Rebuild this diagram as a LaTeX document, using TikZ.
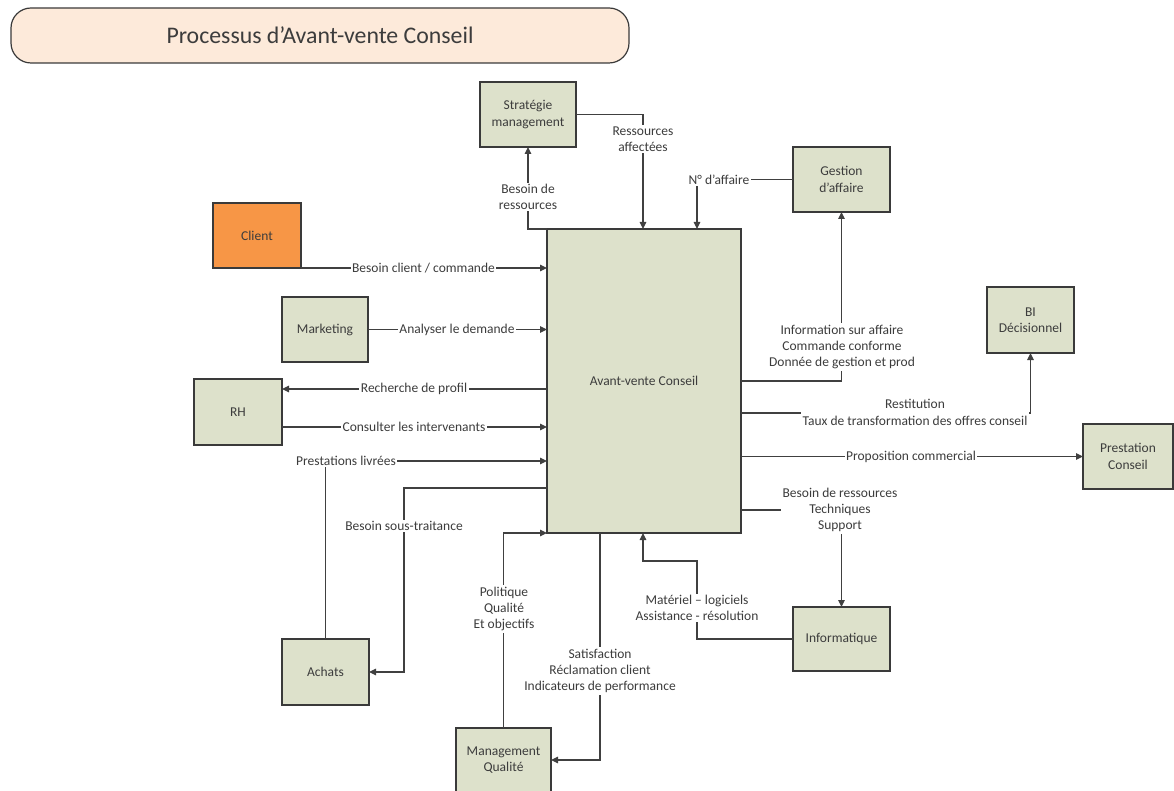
\documentclass[tikz,border=0pt]{standalone}
\usepackage{fontspec}
\setmainfont{Carlito}
\usetikzlibrary{arrows.meta}
\definecolor{boxfill}{HTML}{DDE1CB}
\definecolor{boxline}{HTML}{3A3A3A}
\definecolor{lineclr}{HTML}{404040}
\definecolor{txt}{HTML}{3C3C3C}
\definecolor{titlefill}{HTML}{FDEADA}
\definecolor{clientfill}{HTML}{F79646}
\begin{document}
\begin{tikzpicture}[x=1pt,y=-1pt,
  lblfont/.style={font=\fontsize{13.5}{16.3}\selectfont, text=txt},
  box/.style={draw=boxline, fill=boxfill, line width=1.3pt, align=center, inner sep=0pt, outer sep=0pt, lblfont},
  lbl/.style={fill=white, inner sep=1.5pt, align=center, lblfont},
  conn/.style={draw=lineclr, line width=1.2pt},
  arr/.style={conn, -{Triangle[length=7pt,width=6.5pt]}}]
\useasboundingbox (0,0) rectangle (1174,791);
% title
\node[draw=boxline, fill=titlefill, line width=1.2pt, rounded corners=20pt, minimum width=618pt, minimum height=55pt, inner sep=0pt,
  font=\fontsize{23.8}{28}\selectfont, text=txt] (title) at (320,35.5) {Processus d’Avant-vente Conseil};
% boxes
\node[box, minimum width=194pt, minimum height=304pt] (main) at (644,381) {Avant-vente Conseil};
\node[box, minimum width=96pt, minimum height=65pt] (strat) at (528,114.5) {Stratégie\\management};
\node[box, minimum width=97pt, minimum height=65pt] (gest) at (841.5,179.5) {Gestion\\d’affaire};
\node[box, fill=clientfill, minimum width=88pt, minimum height=65pt] (client) at (257,235.5) {Client};
\node[box, minimum width=86pt, minimum height=65pt] (mkt) at (325,329.5) {Marketing};
\node[box, minimum width=88pt, minimum height=66pt] (rh) at (238,412) {RH};
\node[box, minimum width=87pt, minimum height=66pt] (achats) at (325.5,672) {Achats};
\node[box, minimum width=95pt, minimum height=64pt] (mq) at (503.5,760) {Management\\Qualité};
\node[box, minimum width=97pt, minimum height=64pt] (info) at (841.5,639) {Informatique};
\node[box, minimum width=87pt, minimum height=66pt] (bi) at (1030.5,320) {BI\\Décisionnel};
\node[box, minimum width=90pt, minimum height=65pt] (prest) at (1128,456.5) {Prestation\\Conseil};
% anchor coordinates on the main box
\coordinate (naff) at (697,229);
\coordinate (crh) at (547,389);
\coordinate (ccons) at (547,427);
\coordinate (cpl) at (547,461);
\coordinate (cst) at (547,488);
\coordinate (cstc) at (404,672);
\coordinate (csat) at (600,533);
\coordinate (cmat) at (697,561);
\coordinate (cmatin) at (643,533);
\coordinate (cbes) at (741,510);
\coordinate (cinf) at (741,381);
\coordinate (cres) at (741,413);
% connectors
\draw[arr] (main.north west) -| (strat.south);
\draw[arr] (strat.east) -| ([xshift=-1pt]main.north);
\draw[arr] (gest.west) -| (naff);
\draw[arr] (client.south east) -- (client.south east -| main.west);
\draw[arr] (mkt.east) -- (mkt.east -| main.west);
\draw[arr] (crh) -- (crh -| rh.east);
\draw[arr] (ccons -| rh.east) -- (ccons);
\draw[arr] (achats.north) |- (cpl);
\draw[arr] (cst) -| (cstc) -- (achats.east);
\draw[arr] (mq.north) |- (main.south west);
\draw[arr] (csat) |- (mq.east);
\draw[arr] (info.west) -| (cmat) -| (cmatin);
\draw[arr] (cbes) -| (info.north);
\draw[arr] (cinf) -| (gest.south);
\draw[arr] (cres) -| (bi.south);
\draw[arr] (main.east |- prest.west) -- (prest.west);
% labels
\node[lbl] (l1) at (528,197) {Besoin de\\ressources};
\node[lbl] (l2) at (643,139) {Ressources\\affectées};
\node[lbl] (l3) at (719,179.5) {N° d’affaire};
\node[lbl] (l4) at (423.5,268) {Besoin client / commande};
\node[lbl] (l5) at (457,329.5) {Analyser le demande};
\node[lbl] (l6) at (414,389) {Recherche de profil};
\node[lbl] (l7) at (414,427) {Consulter les intervenants};
\node[lbl] (l8) at (346,461) {Prestations livrées};
\node[lbl] (l9) at (404,526) {Besoin sous-traitance};
\node[lbl] (l10) at (504,609) {Politique\\Qualité\\Et objectifs};
\node[lbl] (l11) at (600,671) {Satisfaction\\Réclamation client\\Indicateurs de performance};
\node[lbl] (l12) at (697,608) {Matériel – logiciels\\Assistance - résolution};
\node[lbl] (l13) at (840,510) {Besoin de ressources\\Techniques\\Support};
\node[lbl] (l14) at (842,347) {Information sur affaire\\Commande conforme\\Donnée de gestion et prod};
\node[lbl] (l15) at (915,412.5) {Restitution\\Taux de transformation des offres conseil};
\node[lbl] (l16) at (911,457) {Proposition commercial};
\end{tikzpicture}
\end{document}
